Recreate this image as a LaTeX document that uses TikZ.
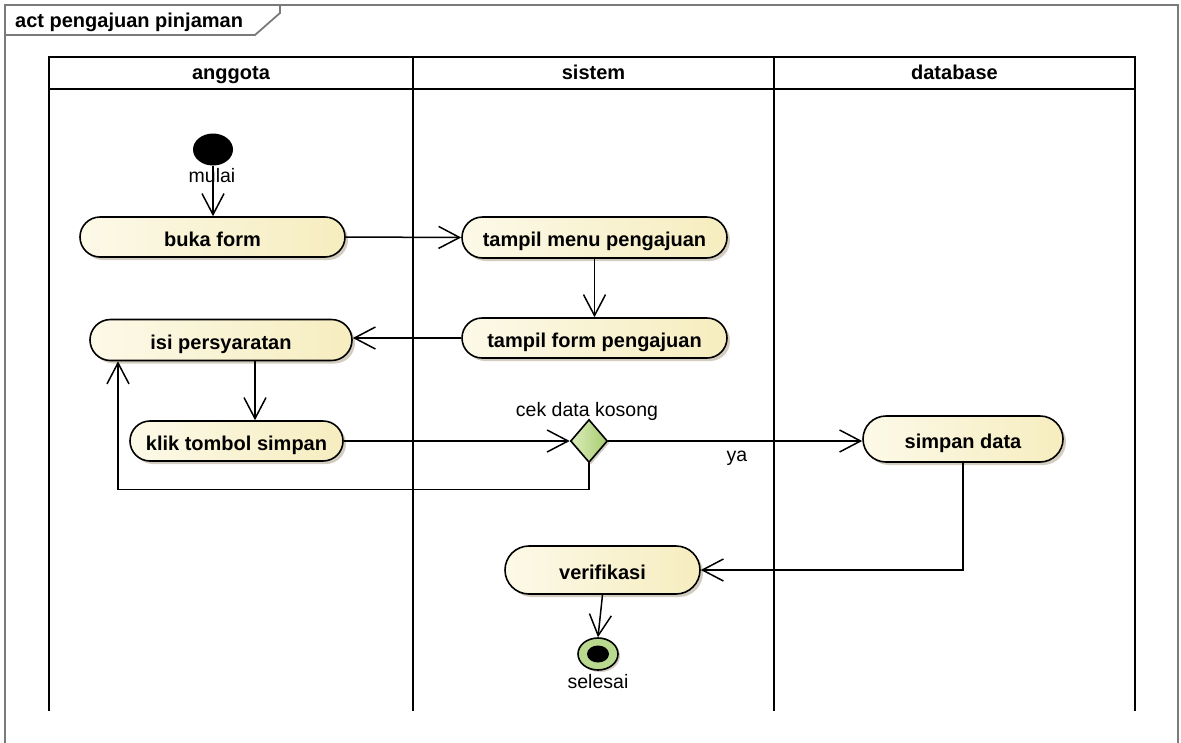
\documentclass[tikz,border=0pt]{standalone}
\usepackage{fontspec}
\setmainfont{Liberation Sans}
\usetikzlibrary{shapes.misc,shapes.geometric,arrows.meta,shadows}

\definecolor{actL}{HTML}{FCF9E8}
\definecolor{actR}{HTML}{F6EDBF}
\definecolor{decL}{HTML}{DCEDBC}
\definecolor{decR}{HTML}{A6CB6E}
\definecolor{endG}{HTML}{B9D98E}
\definecolor{shadeC}{HTML}{D3CCC0}
\definecolor{frameC}{HTML}{7A7A7A}

\tikzset{
  x=1pt, y=-1pt,
  boldtxt/.style={font=\bfseries\fontsize{20}{24}\selectfont},
  plaintxt/.style={font=\fontsize{19.5}{23}\selectfont, inner sep=0pt},
  action/.style={rounded rectangle, draw=black, line width=1.6pt,
    left color=actL, right color=actR, minimum height=40pt, inner sep=0pt,
    boldtxt, text height=18pt, text depth=0pt,
    drop shadow={shadow xshift=3pt, shadow yshift=-3pt, fill=shadeC, opacity=1}},
  decision/.style={diamond, draw=black, line width=1.6pt, inner sep=0pt,
    left color=decL, right color=decR, minimum width=37pt, minimum height=43pt,
    drop shadow={shadow xshift=2pt, shadow yshift=-2pt, fill=shadeC, opacity=1}},
  flow/.style={line width=1.5pt, -{Straight Barb[length=21pt,width=22pt,line width=1.5pt]}},
  lane/.style={line width=2.8pt, black},
  framestyle/.style={line width=1.8pt, frameC},
}

\begin{document}
\begin{tikzpicture}
\useasboundingbox (0,0) rectangle (1181,742);

% diagram frame with its name tab
\draw[framestyle] (5,760) -- (5,5) -- (1178,5) -- (1178,760);
\draw[framestyle] (5,35) -- (255,35) -- (280,13) -- (280,5);
\node[boldtxt, anchor=base west, inner sep=0pt] (title) at (15,27) {act pengajuan pinjaman};

% swimlanes
\draw[lane] (49,711) -- (49,57) -- (1135,57) -- (1135,711);
\draw[lane] (49,89) -- (1135,89);
\draw[lane] (413,57) -- (413,711);
\draw[lane] (774,57) -- (774,711);
\node[boldtxt, anchor=base, inner sep=0pt] (laneA) at (231,79) {anggota};
\node[boldtxt, anchor=base, inner sep=0pt] (laneB) at (593.5,79) {sistem};
\node[boldtxt, anchor=base, inner sep=0pt] (laneC) at (954.5,79) {database};

% initial and final nodes
\node[ellipse, fill=black, minimum width=40pt, minimum height=32pt, inner sep=0pt] (start) at (213,149.5) {};
\node[ellipse, draw=black, line width=1.6pt, fill=endG, minimum width=40pt, minimum height=32pt, inner sep=0pt,
  drop shadow={shadow xshift=2pt, shadow yshift=-2pt, fill=shadeC, opacity=1}] (fin) at (598,654) {};
\node[ellipse, fill=black, minimum width=22pt, minimum height=17pt, inner sep=0pt] (finDot) at (fin.center) {};

% actions
\node[action, minimum width=265pt] (buka) at (212.5,237) {buka form};
\node[action, minimum width=265pt, minimum height=41pt] (menu) at (594.5,237.5) {tampil menu pengajuan};
\node[action, minimum width=265pt] (form) at (594.5,338) {tampil form pengajuan};
\node[action, minimum width=262pt, minimum height=41pt] (isi) at (221,340) {isi persyaratan};
\node[action, minimum width=213pt] (klik) at (236.5,441) {klik tombol simpan};
\node[decision] (cek) at (589,441) {};
\node[action, minimum width=200pt, minimum height=46pt] (simpan) at (963,439) {simpan data};
\node[action, minimum width=195pt, minimum height=48pt] (verif) at (602.5,570) {verifikasi};

% control flows
\draw[flow] (start.south) -- (start.south |- buka.north);
\draw[flow] (buka.east) -- (menu.west);
\draw[flow] (menu.south) -- (menu.south |- form.north);
\draw[flow] (form.west) -- (form.west -| isi.east);
\draw[flow] ([xshift=34pt]isi.south) -- ([xshift=34pt]isi.south |- klik.north);
\draw[flow] (klik.east) -- (cek.west);
\draw[flow] (cek.east) -- (cek.east -| simpan.west);
\draw[flow] (cek.south) -- ++(0,26) -| ([xshift=-103pt]isi.south);
\draw[flow] (simpan.south) |- (verif.east);
\draw[flow] (verif.south) -- (fin.north);

% labels
\node[plaintxt, anchor=base] (mulai) at (212,182) {mulai};
\node[plaintxt, anchor=base] (cekLbl) at (587,416) {cek data kosong};
\node[plaintxt, anchor=base] (ya) at (737,461) {ya};
\node[plaintxt, anchor=base] (selesai) at (598,688) {selesai};
\end{tikzpicture}
\end{document}
